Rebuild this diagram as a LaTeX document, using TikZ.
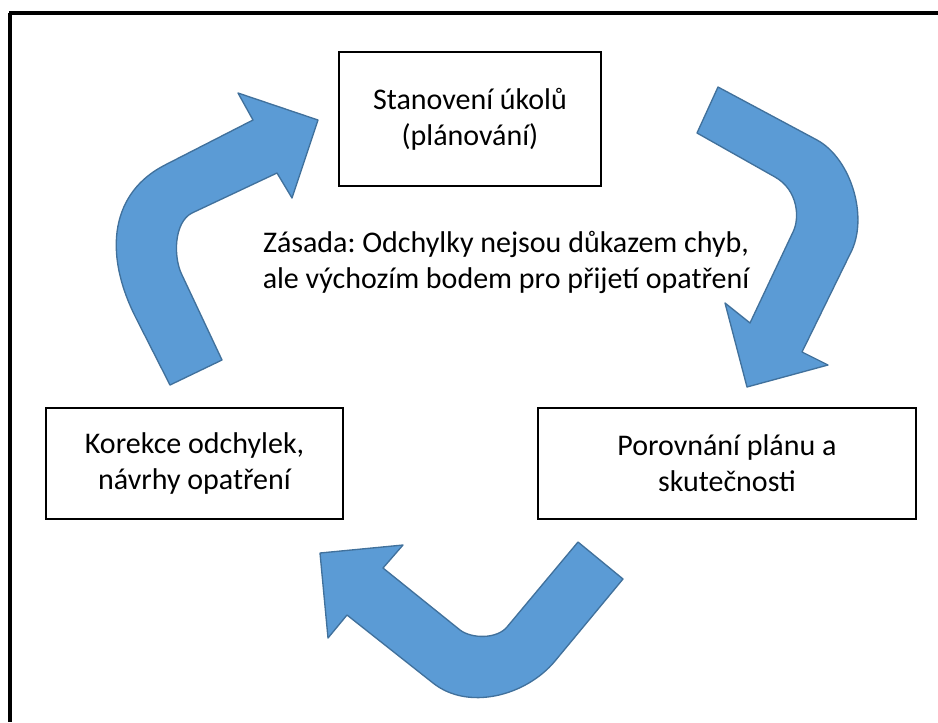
\documentclass[tikz,border=0pt]{standalone}
\usepackage{fontspec}
\setmainfont{Carlito}
\usepackage{xcolor}
\usetikzlibrary{positioning}
\definecolor{cyclefill}{HTML}{5B9BD5}
\definecolor{cycleline}{HTML}{41719C}
\frenchspacing

\begin{document}
\begin{tikzpicture}[
  x=0.75pt, y=-0.75pt,
  every node/.style={font=\fontsize{22.5pt}{27pt}\selectfont},
  stepbox/.style={rectangle, draw=black, line width=1.5pt, fill=white,
    align=center, inner sep=0pt, outer sep=0pt},
  bentarrow/.style={fill=cyclefill, draw=cycleline, line width=1pt, line join=round},
  frameline/.style={line width=2.4pt, black},
]
\useasboundingbox (0,0) rectangle (938,722);

% Frame (cut off at right and bottom)
\draw[frameline] (9,13) -- (938,13);
\draw[frameline] (10,13) -- (10,722);

% Steps of the cycle
\node[stepbox, minimum width=196.5pt, minimum height=100.5pt] (plan) at (470,119)
  {Stanovení úkolů\\(plánování)};
\node[stepbox, minimum width=283.5pt, minimum height=83.25pt] (compare) at (727,463.5)
  {Porovnání plánu a\\skutečnosti};
\node[stepbox, minimum width=222.75pt, minimum height=83.25pt] (correct) at (194.5,463.5)
  {Korekce odchylek,\\návrhy opatření};

% Principle in the middle
\node[align=center] (rule) at (506,262)
  {Zásada: Odchylky nejsou důkazem chyb,\\ale výchozím bodem pro přijetí opatření};

% Bent arrows
% correct -> plan
\draw[bentarrow] (170,385) -- (136,318)
  .. controls (102,251) and (112,192) .. (165,165)
  -- (253,120) -- (238,93) -- (318,120) -- (292,198) -- (277,173) -- (192,213)
  .. controls (174,222) and (173,257) .. (182,275)
  -- (222,360) -- cycle;
% plan -> compare
\draw[bentarrow] (718,87) -- (817,140)
  .. controls (850,158) and (868,214) .. (852,250)
  -- (802,352) -- (828,365) -- (747,387) -- (725,303) -- (750,323) -- (793,232)
  .. controls (800,218) and (798,190) .. (775,177)
  -- (697,133) -- cycle;
% compare -> correct
\draw[bentarrow] (578,542) -- (623,579) -- (555,661)
  .. controls (526,696) and (468,711) .. (433,683)
  -- (347,615) -- (328,638) -- (320,553) -- (403,545) -- (383,568) -- (460,630)
  .. controls (472,639) and (497,639) .. (507,627)
  -- cycle;
\end{tikzpicture}
\end{document}
